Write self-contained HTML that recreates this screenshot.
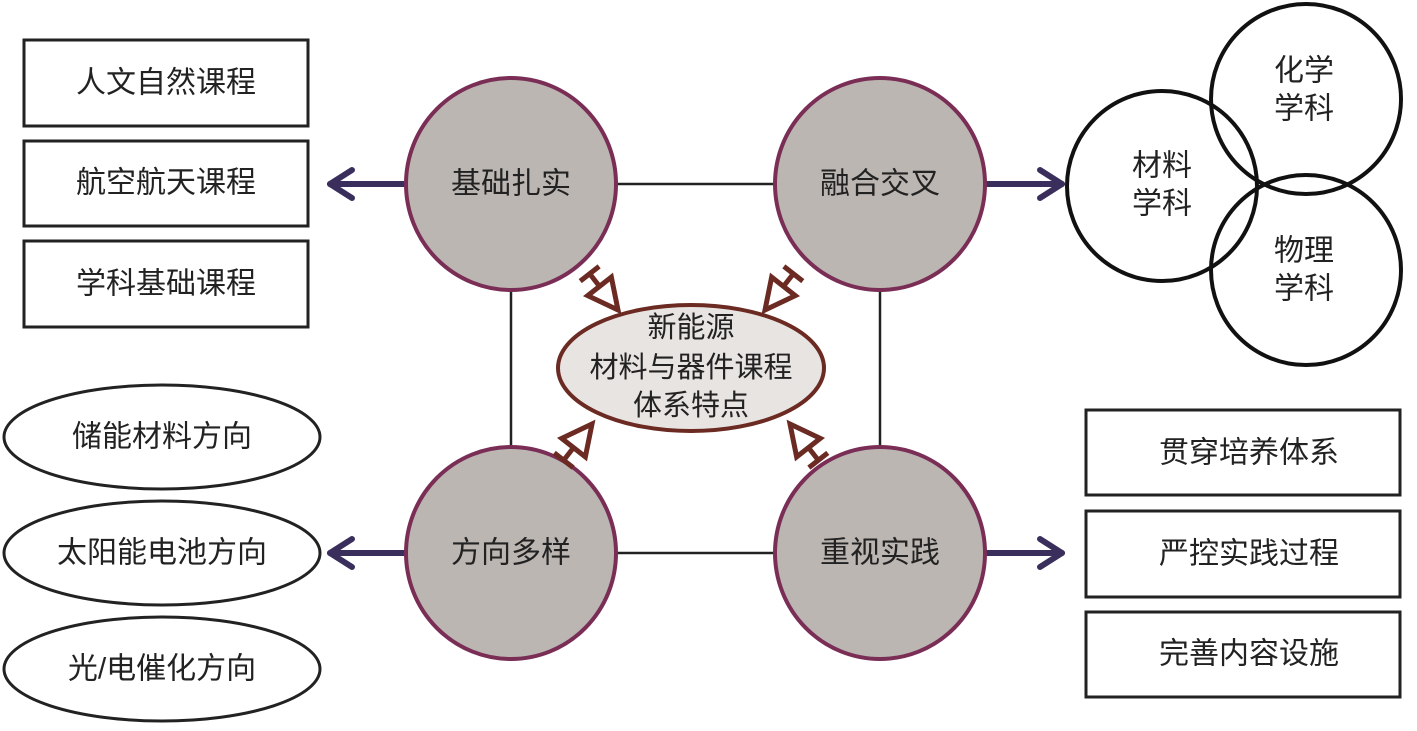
<!DOCTYPE html>
<html><head><meta charset="utf-8"><style>
body{margin:0;background:#fff}
svg text{font-family:"Liberation Sans","Noto Sans CJK SC",sans-serif;fill:#222;text-anchor:middle;dominant-baseline:central}
</style></head><body>
<svg width="1417" height="726" viewBox="0 0 1417 726" xmlns="http://www.w3.org/2000/svg">
<g stroke="#222" stroke-width="2.5" fill="none">
<line x1="617" y1="184" x2="775" y2="184"/>
<line x1="617" y1="553" x2="775" y2="553"/>
<line x1="511" y1="290" x2="511" y2="447"/>
<line x1="880" y1="290" x2="880" y2="447"/>
</g>
<g fill="#fff" stroke="#222" stroke-width="3">
<rect x="24" y="40" width="284" height="86"/>
<rect x="24" y="141" width="284" height="85"/>
<rect x="24" y="241" width="284" height="86"/>
<rect x="1086" y="410" width="314" height="85"/>
<rect x="1086" y="511" width="314" height="86"/>
<rect x="1086" y="612" width="314" height="85"/>
<ellipse cx="162" cy="437" rx="158" ry="52"/>
<ellipse cx="162" cy="553" rx="158" ry="52"/>
<ellipse cx="162" cy="669" rx="158" ry="52"/>
</g>
<g font-size="30">
<text x="166" y="83">人文自然课程</text>
<text x="166" y="183">航空航天课程</text>
<text x="166" y="284">学科基础课程</text>
<text x="1249" y="453">贯穿培养体系</text>
<text x="1249" y="554">严控实践过程</text>
<text x="1249" y="654">完善内容设施</text>
<text x="162" y="437">储能材料方向</text>
<text x="162" y="553">太阳能电池方向</text>
<text x="162" y="669">光/电催化方向</text>
</g>
<g fill="none" stroke="#111" stroke-width="4">
<circle cx="1162" cy="186" r="95"/>
<circle cx="1306" cy="99" r="95"/>
<circle cx="1306" cy="270" r="95"/>
</g>
<g font-size="30">
<text x="1162" y="166">材料</text><text x="1162" y="204">学科</text>
<text x="1304" y="71">化学</text><text x="1304" y="109">学科</text>
<text x="1304" y="251">物理</text><text x="1304" y="289">学科</text>
</g>
<g stroke="#3a2f5c" stroke-width="6" fill="none" stroke-linecap="round" stroke-linejoin="round">
<line x1="405" y1="184" x2="330" y2="184"/><polyline points="352,170 330,184 352,198"/>
<line x1="985" y1="184" x2="1062" y2="184"/><polyline points="1040,170 1062,184 1040,198"/>
<line x1="405" y1="553" x2="330" y2="553"/><polyline points="352,539 330,553 352,567"/>
<line x1="985" y1="553" x2="1062" y2="553"/><polyline points="1040,539 1062,553 1040,567"/>
</g>
<g fill="#bcb6b3" stroke="#7a2e55" stroke-width="4">
<ellipse cx="511" cy="184" rx="105" ry="106"/>
<ellipse cx="880" cy="184" rx="105" ry="106"/>
<ellipse cx="511" cy="553" rx="105" ry="106"/>
<ellipse cx="880" cy="553" rx="105" ry="106"/>
</g>
<g font-size="30">
<text x="511" y="184">基础扎实</text>
<text x="880" y="184">融合交叉</text>
<text x="511" y="553">方向多样</text>
<text x="880" y="553">重视实践</text>
</g>
<ellipse cx="691" cy="368" rx="133" ry="63" fill="#e8e4e2" stroke="#6b2a22" stroke-width="4"/>
<g font-size="29">
<text x="691" y="328">新能源</text>
<text x="691" y="368">材料与器件课程</text>
<text x="691" y="406">体系特点</text>
</g>
<g fill="#fff" stroke="#6b2a22" stroke-width="5" stroke-linejoin="miter">
<g transform="translate(618,310) rotate(52)"><polygon points="0,0 -30,-15 -30,15"/><line x1="-30" y1="0" x2="-46" y2="0"/><line x1="-46" y1="-12" x2="-46" y2="12"/></g>
<g transform="translate(765,310) rotate(128)"><polygon points="0,0 -30,-15 -30,15"/><line x1="-30" y1="0" x2="-46" y2="0"/><line x1="-46" y1="-12" x2="-46" y2="12"/></g>
<g transform="translate(592,424) rotate(-52)"><polygon points="0,0 -30,-15 -30,15"/><line x1="-30" y1="0" x2="-46" y2="0"/><line x1="-46" y1="-12" x2="-46" y2="12"/></g>
<g transform="translate(790,424) rotate(-128)"><polygon points="0,0 -30,-15 -30,15"/><line x1="-30" y1="0" x2="-46" y2="0"/><line x1="-46" y1="-12" x2="-46" y2="12"/></g>
</g>
</svg>
</body></html>
